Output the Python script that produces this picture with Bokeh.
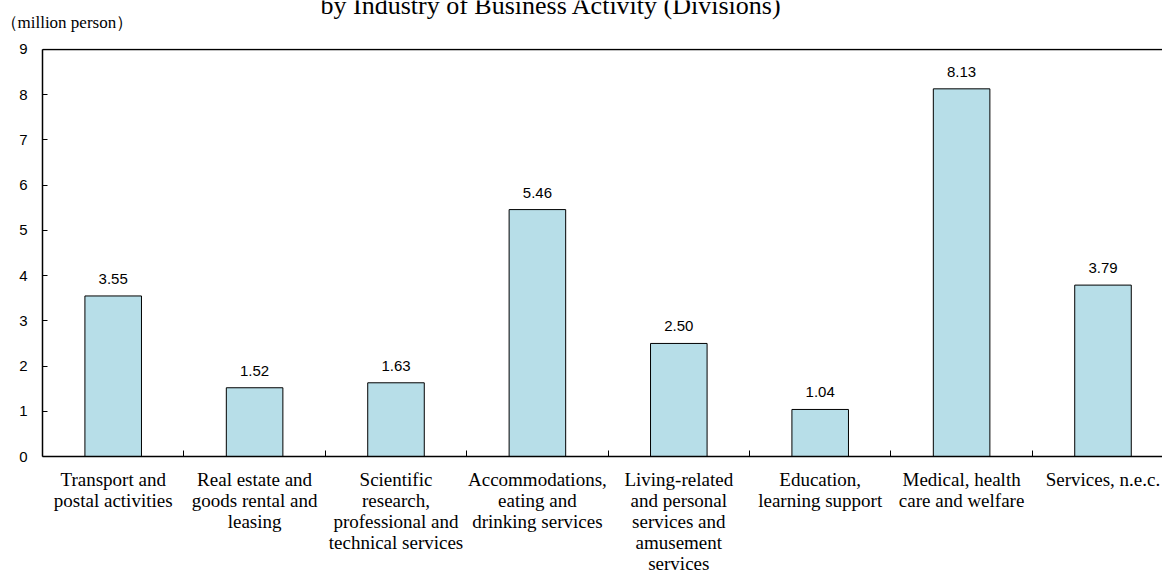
from bokeh.plotting import figure
from bokeh.layouts import column
from bokeh.models import FixedTicker, Range1d, Span, ColumnDataSource, LabelSet
from bokeh.core.properties import value
from bokeh.embed import file_html
from bokeh.resources import INLINE
import numpy as np

categories = [
    "Transport and\npostal activities",
    "Real estate and\ngoods rental and\nleasing",
    "Scientific\nresearch,\nprofessional and\ntechnical services",
    "Accommodations,\neating and\ndrinking services",
    "Living-related\nand personal\nservices and\namusement\nservices",
    "Education,\nlearning support",
    "Medical, health\ncare and welfare",
    "Services, n.e.c.",
]
values = [3.55, 1.52, 1.63, 5.46, 2.50, 1.04, 8.13, 3.79]
value_labels = ["3.55", "1.52", "1.63", "5.46", "2.50", "1.04", "8.13", "3.79"]
y_ticks = [0, 1, 2, 3, 4, 5, 6, 7, 8, 9]
title_text = "by Industry of Business Activity (Divisions)"
unit_text = "（million person）"

n = len(categories)
centers = list(np.arange(n) + 0.5)
bounds = list(np.arange(1, n))

W, H = 1162, 576
head_h = 39
frame_left, frame_top, frame_bottom = 42, 48, 457
cat_px = 141.4
frame_w = W - frame_left
px_per_unit = (frame_bottom - 49) / 9.0
y_top = 9 + (49 - frame_top) / px_per_unit

# ---- heading strip (title + unit) ----
head = figure(width=W, height=head_h, output_backend="svg", toolbar_location=None,
              x_range=Range1d(0, W), y_range=Range1d(head_h, 0),
              x_axis_location=None, y_axis_location=None, min_border=0)
head.title_location = None
head.frame_align = False
head.outline_line_color = None
head.grid.visible = False
head.text(x=[320], y=[5], text=[title_text], text_font=value("Liberation Serif"),
          text_font_size=value("26px"), text_baseline="alphabetic", text_align="left",
          text_color="black")
head.text(x=[0], y=[22], text=[unit_text], text_font=value("Liberation Serif"),
          text_font_size=value("17px"), text_baseline="alphabetic", text_align="left",
          text_color="black")

# ---- main chart ----
p = figure(width=W, height=H - head_h, output_backend="svg", toolbar_location=None,
           x_range=Range1d(0, frame_w / cat_px), y_range=Range1d(0, y_top),
           min_border_left=frame_left, min_border_right=0,
           min_border_top=frame_top - head_h, min_border_bottom=H - frame_bottom)
p.title_location = None
p.frame_align = False
p.outline_line_color = None
p.xgrid.grid_line_color = None
p.ygrid.grid_line_color = None

src = ColumnDataSource(dict(x=centers, top=values, lab=value_labels))
p.vbar(x="x", top="top", width=0.4, source=src, fill_color="#B7DEE8",
       line_color="black", line_width=1)

labels = LabelSet(x="x", y="top", text="lab", source=src, y_offset=12,
                  text_align="center", text_baseline="bottom",
                  text_font=value("Liberation Sans"), text_font_size=value("15px"),
                  text_color="black")
p.add_layout(labels)

p.add_layout(Span(location=9, dimension="width", line_color="black", line_width=1.5))

xa = p.xaxis[0]
xa.ticker = FixedTicker(ticks=centers, minor_ticks=bounds)
xa.major_label_overrides = {c: lab for c, lab in zip(centers, categories)}
xa.major_tick_line_color = None
xa.minor_tick_in = 6
xa.minor_tick_out = 0
xa.minor_tick_line_color = "black"
xa.axis_line_color = "black"
xa.axis_line_width = 1.5
xa.major_label_text_font = "Liberation Serif"
xa.major_label_text_font_size = "19px"
xa.major_label_text_line_height = 1.0
xa.major_label_text_color = "black"
xa.major_label_standoff = 6

ya = p.yaxis[0]
ya.ticker = FixedTicker(ticks=y_ticks)
ya.bounds = (0, 9)
ya.minor_tick_line_color = None
ya.major_tick_in = 5
ya.major_tick_out = 0
ya.major_tick_line_color = "black"
ya.axis_line_color = "black"
ya.axis_line_width = 1.5
ya.major_label_text_font = "Liberation Sans"
ya.major_label_text_font_size = "15px"
ya.major_label_text_color = "black"
ya.major_label_standoff = 15

layout = column(head, p, spacing=0)
open("out.html", "w").write(file_html(layout, INLINE))
